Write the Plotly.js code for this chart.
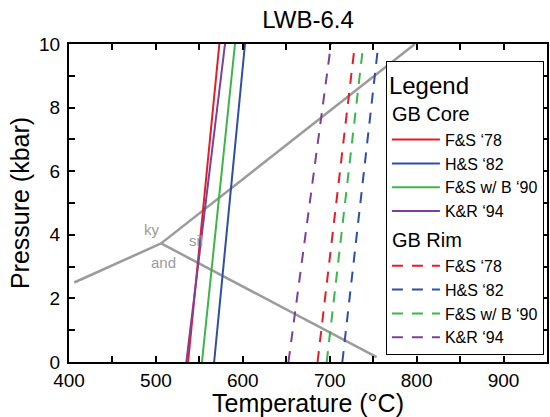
<!DOCTYPE html>
<html>
<head>
<meta charset="utf-8">
<script src="https://cdn.plot.ly/plotly-3.0.1.min.js"></script>
<style>html,body{margin:0;padding:0;background:#fff;}#chart{width:550px;height:417px;}</style>
</head>
<body>
<div id="chart"></div>
<script>
// Pressure endpoints (kbar) for the calibration lines
var pEnds = [0, 10];
// Series names
var seriesNames = ["F&S ‘78", "H&S ‘82", "F&S w/ B ‘90", "K&R ‘94"];
var seriesColors = ["#e41e26", "#2f4fa6", "#3cb54a", "#7e3f98"];
// GB Core temperatures (°C) at P = 0 and P = 10 kbar
var coreT0  = [537, 567, 553, 535];
var coreT10 = [573, 602.5, 591, 579.5];
// GB Rim temperatures (°C) at P = 0 and P = 10 kbar
var rimT0  = [686, 714.5, 696.5, 652.5];
var rimT10 = [729, 756, 738.7, 701.5];
// Aluminosilicate phase boundaries
var kyAndT = [406, 506], kyAndP = [2.5, 3.73];
var kySilT = [506, 798], kySilP = [3.73, 10];
var andSilT = [506, 754], andSilP = [3.73, 0.15];
// Phase field labels
var phaseLabels = ["ky", "sil", "and"];
var phaseLabelT = [496, 546, 509];
var phaseLabelP = [4.17, 3.81, 3.12];

var FONT = "Liberation Sans, Arial, Helvetica, sans-serif";
var traces = [];
var gray = "#9b9b9b";
[[kyAndT, kyAndP], [kySilT, kySilP], [andSilT, andSilP]].forEach(function (d) {
  traces.push({x: d[0], y: d[1], mode: "lines", line: {color: gray, width: 2.5}, showlegend: false, hoverinfo: "skip"});
});
for (var i = 0; i < seriesNames.length; i++) {
  traces.push({
    x: [coreT0[i], coreT10[i]], y: pEnds, mode: "lines", name: seriesNames[i],
    line: {color: seriesColors[i], width: 2},
    legendgroup: "core", legendgrouptitle: {text: "GB Core", font: {size: 20, family: FONT, color: "#000"}}
  });
}
for (var j = 0; j < seriesNames.length; j++) {
  traces.push({
    x: [rimT0[j], rimT10[j]], y: pEnds, mode: "lines", name: seriesNames[j],
    line: {color: seriesColors[j], width: 2, dash: "11px,9px"},
    legendgroup: "rim", legendgrouptitle: {text: "GB Rim", font: {size: 20, family: FONT, color: "#000"}}
  });
}

var annotations = phaseLabels.map(function (t, k) {
  return {x: phaseLabelT[k], y: phaseLabelP[k], text: t, showarrow: false,
    font: {size: 15, family: FONT, color: gray}, xanchor: "center", yanchor: "middle"};
});

var axisCommon = {
  showgrid: false, zeroline: false, showline: true, linecolor: "#000", linewidth: 2,
  mirror: "ticks", ticks: "inside", ticklen: 6, tickwidth: 2, tickcolor: "#000",
  tickfont: {size: 19, family: FONT, color: "#000"}
};

var layout = {
  width: 550, height: 417,
  margin: {l: 69, r: 3, t: 44, b: 55},
  paper_bgcolor: "#fff", plot_bgcolor: "#fff",
  font: {family: FONT, color: "#000"},
  title: {text: "LWB-6.4", font: {size: 24, family: FONT, color: "#000"}, x: 0.5, xref: "paper", xanchor: "center", y: 0.952, yref: "container", yanchor: "middle"},
  xaxis: Object.assign({}, axisCommon, {
    range: [400, 950], dtick: 100, tick0: 400,
    minor: {dtick: 50, ticks: "inside", ticklen: 6, tickwidth: 2, tickcolor: "#000"},
    title: {text: "Temperature (°C)", font: {size: 25, family: FONT, color: "#000"}, standoff: 2}
  }),
  yaxis: Object.assign({}, axisCommon, {
    range: [0, 10], dtick: 2, tick0: 0, ticklabelstandoff: 3,
    minor: {dtick: 1, ticks: "inside", ticklen: 6, tickwidth: 2, tickcolor: "#000"},
    title: {text: "Pressure (kbar)", font: {size: 25, family: FONT, color: "#000"}, standoff: 2}
  }),
  showlegend: true,
  legend: {
    x: 0.663, y: 0.945, xanchor: "left", yanchor: "top",
    bgcolor: "#fff", bordercolor: "#000", borderwidth: 1,
    traceorder: "grouped", tracegroupgap: 2, itemwidth: 48,
    font: {size: 16, family: FONT, color: "#000"},
    title: {text: "Legend", font: {size: 24, family: FONT, color: "#000"}}
  },
  annotations: annotations
};

Plotly.newPlot("chart", traces, layout, {displayModeBar: false, staticPlot: true});
</script>
</body>
</html>
